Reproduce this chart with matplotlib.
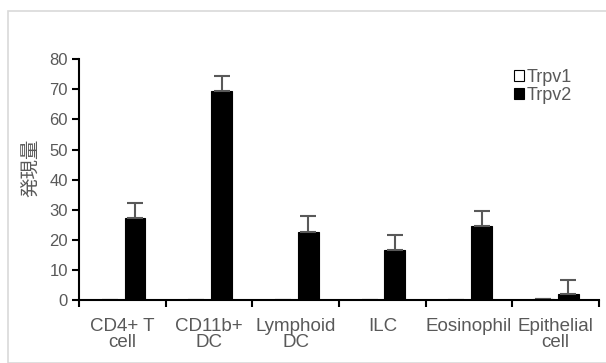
import matplotlib
matplotlib.use("Agg")
import matplotlib.pyplot as plt
import numpy as np
from matplotlib.patches import Rectangle

categories = ["CD4+ T\ncell", "CD11b+\nDC", "Lymphoid\nDC", "ILC", "Eosinophil", "Epithelial\ncell"]
trpv1 = [0, 0, 0, 0, 0, 0.3]
trpv1_err = [0, 0, 0, 0, 0, 0]
trpv2 = [27.3, 69.3, 22.7, 16.7, 24.7, 2.0]
trpv2_err = [5.0, 5.0, 5.2, 5.0, 5.0, 4.8]
yticks = [0, 10, 20, 30, 40, 50, 60, 70, 80]
ylabel = "発現量"

plt.rcParams['font.family'] = ['Liberation Sans', 'Noto Sans CJK JP', 'DejaVu Sans']

fig = plt.figure(figsize=(6.06, 3.63), dpi=100)
# outer light border
fig.patches.append(Rectangle((8/606, 0), 1.2, 1 - 11/363, transform=fig.transFigure,
                             fill=False, edgecolor='#d9d9d9', linewidth=1.2))
ax = fig.add_axes([79/606, 1 - 300/363, 520/606, (300 - 59.3)/363])

x = np.arange(len(categories))
w = 0.24
off = 0.145
gray = '#595959'
ax.bar(x - off, trpv1, w, color='white', edgecolor='black', linewidth=0.8, label='Trpv1',
       yerr=[np.zeros(len(x)), trpv1_err], error_kw=dict(ecolor=gray, elinewidth=1.5, capsize=6, capthick=1.5))
ax.bar(x + off, trpv2, w, color='black', edgecolor='black', linewidth=0.8, label='Trpv2',
       yerr=[np.zeros(len(x)), trpv2_err], error_kw=dict(ecolor=gray, elinewidth=1.5, capsize=6, capthick=1.5))

ax.set_xlim(-0.5, len(categories) - 0.5)
ax.set_ylim(0, 80)
ax.set_yticks(yticks)
ax.set_yticklabels([str(v) for v in yticks], color=gray, fontsize=12)
ax.set_xticks(x)
ax.set_xticklabels(categories, color=gray, fontsize=13.5, linespacing=0.95)
ax.set_xticks(np.arange(-0.5, len(categories), 1.0), minor=True)
ax.tick_params(axis='x', which='major', length=0, pad=13)
ax.tick_params(axis='x', which='minor', length=5, width=1.5, color='black', direction='out')
ax.tick_params(axis='y', length=5, width=1.5, color='black', direction='out', pad=3)
for s in ['top', 'right']:
    ax.spines[s].set_visible(False)
for s in ['left', 'bottom']:
    ax.spines[s].set_linewidth(1.5)

ax.set_ylabel(ylabel, color=gray, fontsize=14, family=['Noto Sans CJK JP', 'DejaVu Sans'])
ax.yaxis.set_label_coords(-0.07, 0.55)

leg = ax.legend(loc='upper left', bbox_to_anchor=(514/606, 1 - 69/363), bbox_transform=fig.transFigure,
                frameon=False, fontsize=13, handlelength=0.55, handleheight=0.55, handletextpad=0.15,
                labelspacing=0.05, borderpad=0, borderaxespad=0)
for t in leg.get_texts():
    t.set_color(gray)

fig.savefig("out.png", dpi=100)
